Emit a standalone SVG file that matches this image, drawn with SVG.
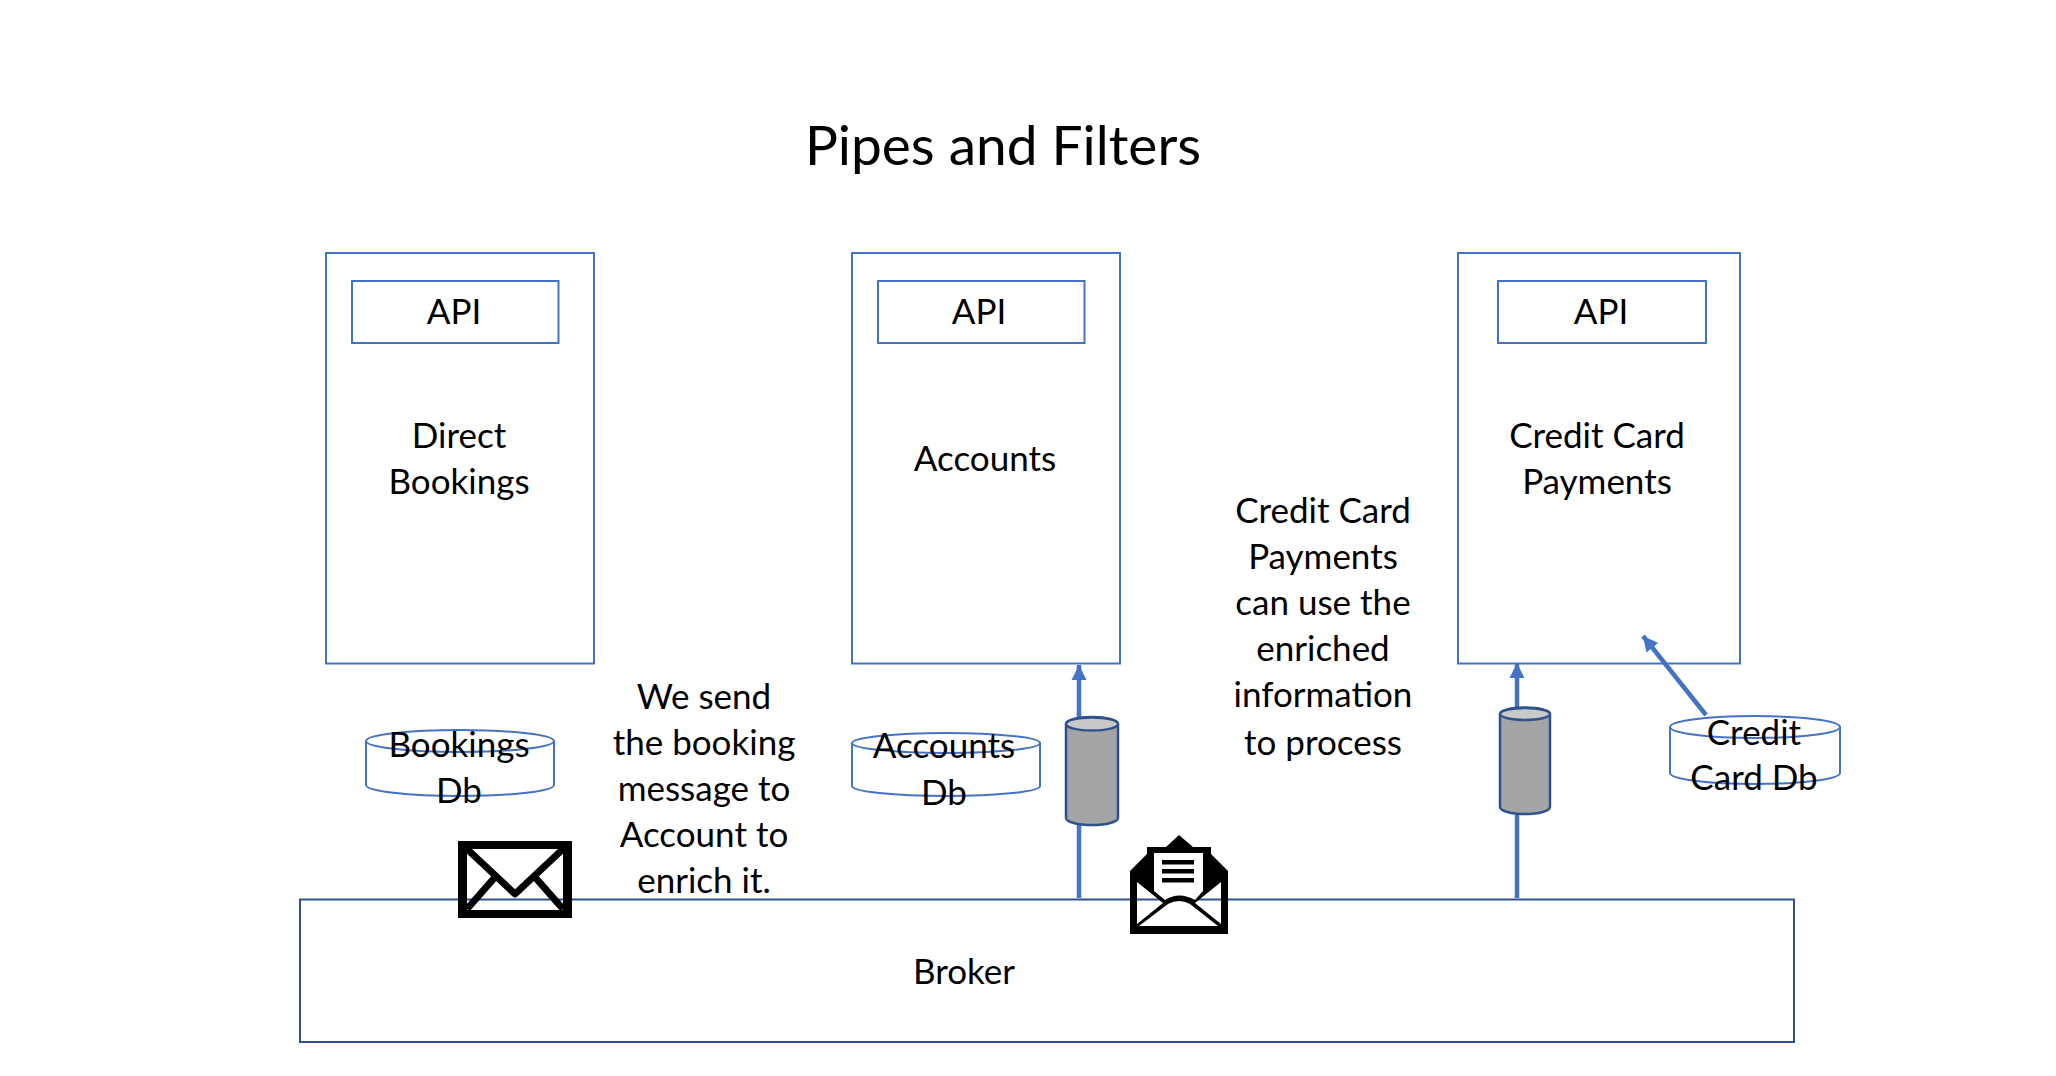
<svg xmlns="http://www.w3.org/2000/svg" width="2056" height="1076" viewBox="0 0 2056 1076">
<style>
text{font-family:Lato,"Open Sans","Liberation Sans",sans-serif;font-size:35px;fill:#000;text-anchor:middle}
.title{font-size:55px}
.box{fill:none;stroke:#4472C4;stroke-width:2}
.broker{fill:none;stroke:#2F528F;stroke-width:2}
.db{fill:none;stroke:#4472C4;stroke-width:2}
.pipe{fill:#A5A5A5;stroke:#2F528F;stroke-width:2.5}
.pipetop{fill:#C9C9C9;stroke:#2F528F;stroke-width:2.5}
.conn{fill:none;stroke:#4472C4;stroke-width:4.500;marker-end:url(#arrow)}
</style>
<defs>
<marker id="arrow" markerUnits="userSpaceOnUse" markerWidth="16" markerHeight="18" refX="15" refY="9" orient="auto"><path d="M0 1.500L15 9L0 16.500Z" fill="#4472C4"/></marker>
</defs>
<rect width="2056" height="1076" fill="#fff"/>
<text id="title" class="title" x="1003" y="165">Pipes and Filters</text>
<g id="broker"><rect class="broker" x="300" y="899.500" width="1494" height="142.500"/><text x="964" y="984">Broker</text></g>
<g id="connectors">
<path class="conn" d="M1079 898V665"/>
<path class="conn" d="M1517 898V663"/>
<path class="conn" d="M1706 715L1643 636"/>
</g>
<g id="direct-bookings"><rect class="box" x="326" y="253" width="268" height="410.500"/><text x="459" y="448">Direct</text><text x="459" y="494">Bookings</text></g>
<g id="direct-api"><rect class="box" x="352" y="281" width="206.500" height="62"/><text x="454" y="324">API</text></g>
<g id="accounts"><rect class="box" x="852" y="253" width="268" height="410.500"/><text x="985" y="471">Accounts</text></g>
<g id="accounts-api"><rect class="box" x="878" y="281" width="206.500" height="62"/><text x="979" y="324">API</text></g>
<g id="credit-card-payments"><rect class="box" x="1458" y="253" width="282" height="410.500"/><text x="1597" y="448">Credit Card</text><text x="1597" y="494">Payments</text></g>
<g id="credit-api"><rect class="box" x="1498" y="281" width="208" height="62"/><text x="1601" y="324">API</text></g>
<g id="bookings-db"><path class="db" d="M366 741A94 11 0 0 1 554 741V785A94 11 0 0 1 366 785Z M366 741A94 11 0 0 0 554 741"/><text x="459" y="757">Bookings</text><text x="459" y="803">Db</text></g>
<g id="accounts-db"><path class="db" d="M852 743A94 10 0 0 1 1040 743V786A94 10 0 0 1 852 786Z M852 743A94 10 0 0 0 1040 743"/><text x="944" y="758">Accounts</text><text x="944" y="805">Db</text></g>
<g id="credit-card-db"><path class="db" d="M1670 727A85 11 0 0 1 1840 727V773A85 11 0 0 1 1670 773Z M1670 727A85 11 0 0 0 1840 727"/><text x="1754" y="745">Credit</text><text x="1754" y="790">Card Db</text></g>
<g id="pipe-accounts"><path class="pipe" d="M1066 724A26 7 0 0 1 1118 724V818A26 7 0 0 1 1066 818Z"/><ellipse class="pipetop" cx="1092" cy="724" rx="26" ry="6.500"/></g>
<g id="pipe-credit"><path class="pipe" d="M1500 714A25 6.500 0 0 1 1550 714V807A25 7 0 0 1 1500 807Z"/><ellipse class="pipetop" cx="1525" cy="714" rx="25" ry="6"/></g>
<g id="note-send"><text x="704" y="708.500">We send</text><text x="704" y="755">the booking</text><text x="704" y="801">message to</text><text x="704" y="847">Account to</text><text x="704" y="893">enrich it.</text></g>
<g id="note-credit"><text x="1323" y="523">Credit Card</text><text x="1323" y="569">Payments</text><text x="1323" y="615">can use the</text><text x="1323" y="661">enriched</text><text x="1323" y="707">information</text><text x="1323" y="755">to process</text></g>
<g id="envelope-closed" transform="translate(0 1)">
<path fill="#000" fill-rule="evenodd" d="M458 840H572V917H458Z M467 848V909H563V848Z"/>
<path fill="none" stroke="#000" stroke-width="7" stroke-linejoin="round" d="M467 848L515 893L563 848 M496 875L467 908 M534 875L563 908"/>
</g>
<g id="envelope-open" transform="translate(0 1)">
<path fill="#000" fill-rule="evenodd" d="M1179 834L1193 846H1211V853L1228 870V933H1130V870L1147 853V846H1166Z M1137 881L1163 902L1137 923Z M1221 881L1195 902L1221 923Z M1139 925L1168 903Q1179 897 1190 903L1218 925Z"/>
<path fill="#fff" d="M1154 852H1203V890L1195 899Q1179 890 1165 899L1154 890Z"/>
<path fill="#000" d="M1162 859H1194V863.500H1162Z M1162 868H1194V872.500H1162Z M1162 877H1194V881.500H1162Z"/>
</g>
</svg>
